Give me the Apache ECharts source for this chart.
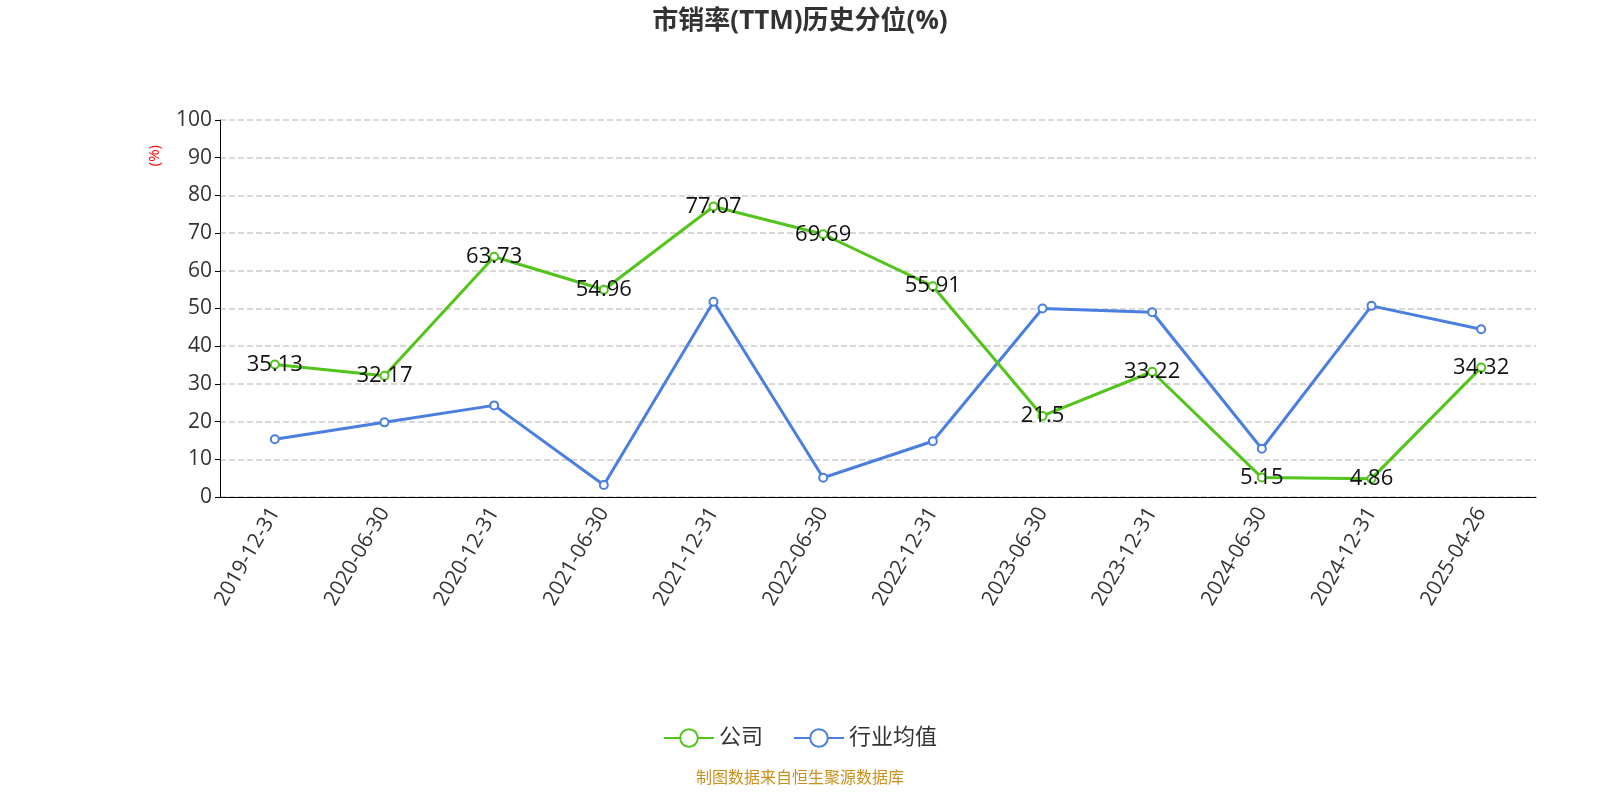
<!DOCTYPE html>
<html><head><meta charset="utf-8">
<script src="https://cdn.jsdelivr.net/npm/echarts@6/dist/echarts.min.js"></script>
<style>html,body{margin:0;padding:0;background:#fff}#c{width:1600px;height:800px}</style>
</head><body><div id="c"></div>
<script>
const dates = ['2019-12-31','2020-06-30','2020-12-31','2021-06-30','2021-12-31','2022-06-30','2022-12-31','2023-06-30','2023-12-31','2024-06-30','2024-12-31','2025-04-26'];
const company = [35.13, 32.17, 63.73, 54.96, 77.07, 69.69, 55.91, 21.5, 33.22, 5.15, 4.86, 34.32];
const industry = [15.3, 19.8, 24.3, 3.2, 51.8, 5.1, 14.8, 50.0, 49.0, 12.8, 50.7, 44.5];

const chart = echarts.init(document.getElementById('c'));
const font = '"Open Sans", "Noto Sans CJK SC", sans-serif';
chart.setOption({
  textStyle: { fontFamily: font },
  title: {
    text: '市销率(TTM)历史分位(%)', left: 'center', top: 4,
    textStyle: { fontSize: 26, fontWeight: 'bold', color: '#333', fontFamily: font }
  },
  grid: { left: 220, right: 64, top: 120, bottom: 303 },
  legend: {
    bottom: 46, itemWidth: 50, itemHeight: 22, itemGap: 30,
    textStyle: { fontSize: 22, color: '#333' },
    data: ['公司', '行业均值']
  },
  graphic: [{
    type: 'text', left: 'center', bottom: 14,
    style: { text: '制图数据来自恒生聚源数据库', fill: '#c8901c', fontSize: 16, fontFamily: font }
  }, {
    type: 'text', left: 147, top: 145, rotation: Math.PI / 2,
    style: { text: '(%)', fill: 'red', fontSize: 15, fontFamily: font }
  }],
  xAxis: {
    type: 'category', data: dates, boundaryGap: true,
    axisLine: { lineStyle: { color: '#000' } },
    axisTick: { length: 6, lineStyle: { color: '#000' } },
    axisLabel: { rotate: 60, fontSize: 21, color: '#333', margin: 12 }
  },
  yAxis: {
    type: 'value', min: 0, max: 100, interval: 10,
    axisLine: { show: true, lineStyle: { color: '#000' } },
    axisTick: { show: true, lineStyle: { color: '#000' } },
    axisLabel: { fontSize: 21, color: '#333' },
    splitLine: { lineStyle: { type: 'dashed', color: '#ccc', width: 1.5 } }
  },
  series: [{
    name: '公司', type: 'line', data: company,
    symbol: 'circle', symbolSize: 8,
    itemStyle: { color: '#fff', borderColor: '#52c41a', borderWidth: 2 },
    lineStyle: { width: 3, color: '#52c41a' },
    emphasis: { disabled: true },
    label: { show: true, position: 'inside', fontSize: 22, color: '#111' },
    z: 3
  }, {
    name: '行业均值', type: 'line', data: industry,
    symbol: 'circle', symbolSize: 8,
    itemStyle: { color: '#fff', borderColor: '#4a7fe0', borderWidth: 2 },
    lineStyle: { width: 3, color: '#4a7fe0' },
    emphasis: { disabled: true },
    z: 2
  }]
});
</script></body></html>
